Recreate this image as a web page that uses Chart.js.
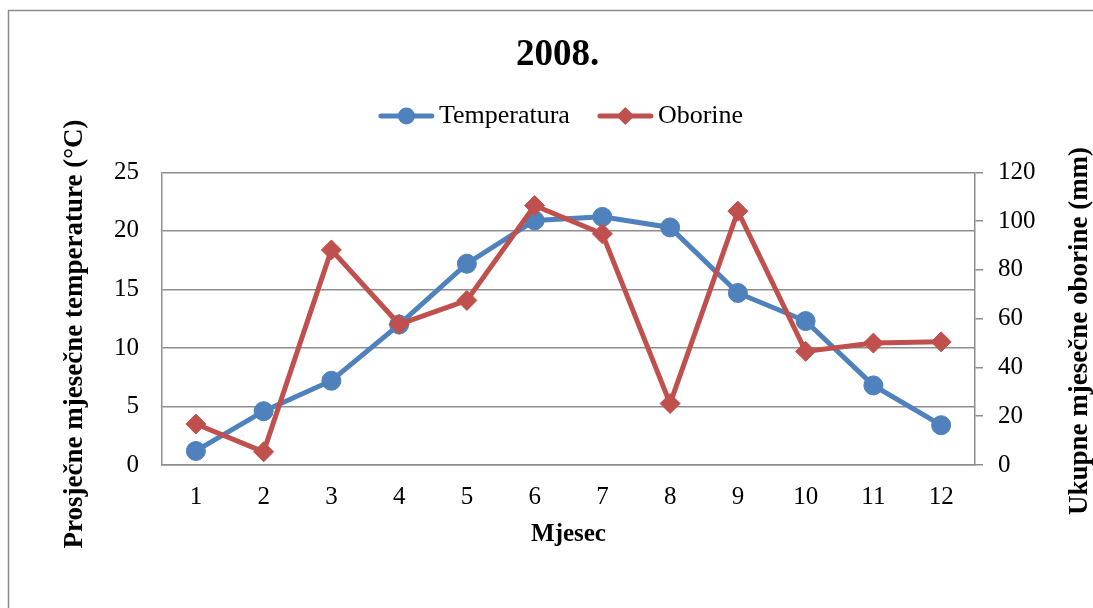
<!DOCTYPE html>
<html>
<head>
<meta charset="utf-8">
<script src="https://cdn.jsdelivr.net/npm/chart.js@4.4.0/dist/chart.umd.min.js"></script>
<style>
  html, body { margin: 0; padding: 0; background: #fff; }
  #wrap { width: 1093px; height: 608px; }
</style>
</head>
<body>
<div id="wrap"><canvas id="chart" width="1093" height="608"></canvas></div>
<script>
var months = ["1", "2", "3", "4", "5", "6", "7", "8", "9", "10", "11", "12"];
var temperatura = [1.2, 4.6, 7.2, 12.0, 17.2, 20.9, 21.2, 20.3, 14.7, 12.3, 6.8, 3.4];
var oborine = [16.8, 5.4, 88.2, 57.7, 67.5, 106.4, 94.8, 25.2, 104.1, 46.6, 50.0, 50.5];
var leftTitle = "Prosječne mjesečne temperature (°C)";
var rightTitle = "Ukupne mjesečne oborine (mm)";

var SERIF = "'Liberation Serif', 'Times New Roman', serif";
var BLUE = "#4F81BD";
var RED = "#C0504D";
var GRID = "#8e8e8e";

// frame around the chart
var framePlugin = {
  id: "frame",
  beforeDraw: function (chart) {
    var ctx = chart.ctx;
    ctx.save();
    ctx.fillStyle = "#fff";
    ctx.fillRect(0, 0, chart.width, chart.height);
    ctx.strokeStyle = "#8a8a8a";
    ctx.lineWidth = 1.5;
    ctx.beginPath();
    ctx.moveTo(8.5, chart.height);
    ctx.lineTo(8.5, 10.5);
    ctx.lineTo(chart.width, 10.5);
    ctx.stroke();
    ctx.restore();
  },
};

// both value axis titles read bottom to top, like in excel
var axisTitles = {
  id: "axisTitles",
  afterDraw: function (chart) {
    var ctx = chart.ctx;
    ctx.save();
    ctx.font = "bold 27px " + SERIF;
    ctx.fillStyle = "#000";
    ctx.textAlign = "center";
    ctx.textBaseline = "middle";
    [[75, 334, leftTitle], [1080, 331, rightTitle]].forEach(function (t) {
      ctx.save();
      ctx.translate(t[0], t[1]);
      ctx.rotate(-Math.PI / 2);
      ctx.fillText(t[2], 0, 0);
      ctx.restore();
    });
    ctx.restore();
  },
};

// excel style legend: line with marker in the middle
var lineLegend = {
  id: "lineLegend",
  afterDraw: function (chart) {
    var ctx = chart.ctx;
    var y = 116;
    ctx.save();
    ctx.font = "26px " + SERIF;
    ctx.textBaseline = "middle";
    var sets = chart.data.datasets;
    var total = 0;
    sets.forEach(function (ds, i) {
      total += 55 + 5 + ctx.measureText(ds.label).width;
      if (i > 0) total += 28;
    });
    var x = 561 - total / 2;
    sets.forEach(function (ds) {
      ctx.strokeStyle = ds.borderColor;
      ctx.lineWidth = 5;
      ctx.lineCap = "round";
      ctx.beginPath();
      ctx.moveTo(x + 2, y);
      ctx.lineTo(x + 53, y);
      ctx.stroke();
      ctx.fillStyle = ds.borderColor;
      var cx = x + 27.5;
      ctx.beginPath();
      if (ds.pointStyle === "rectRot") {
        ctx.moveTo(cx - 9, y);
        ctx.lineTo(cx, y - 9);
        ctx.lineTo(cx + 9, y);
        ctx.lineTo(cx, y + 9);
        ctx.closePath();
      } else {
        ctx.arc(cx, y, 8.5, 0, Math.PI * 2);
      }
      ctx.fill();
      ctx.fillStyle = "#000";
      ctx.fillText(ds.label, x + 60, y);
      x += 60 + ctx.measureText(ds.label).width + 28;
    });
    ctx.restore();
  },
};

var ctx = document.getElementById("chart").getContext("2d");
var chart = new Chart(ctx, {
  type: "line",
  data: {
    labels: months,
    datasets: [
      {
        label: "Temperatura",
        data: temperatura,
        yAxisID: "y",
        borderColor: BLUE,
        backgroundColor: BLUE,
        borderWidth: 5,
        pointStyle: "circle",
        pointRadius: 9.5,
        pointBorderWidth: 1,
        tension: 0,
        order: 2,
      },
      {
        label: "Oborine",
        data: oborine,
        yAxisID: "y1",
        borderColor: RED,
        backgroundColor: RED,
        borderWidth: 5,
        pointStyle: "rectRot",
        pointRadius: 10,
        pointBorderWidth: 1,
        tension: 0,
        order: 1,
      },
    ],
  },
  options: {
    responsive: false,
    animation: false,
    layout: { padding: { left: 22, top: 0, right: 0, bottom: 0 } },
    plugins: {
      legend: { display: false },
      tooltip: { enabled: false },
      title: {
        display: true,
        text: "2008.",
        color: "#000",
        font: { family: SERIF, size: 37, weight: "bold", lineHeight: 1.2 },
        padding: { top: 33, bottom: 95 },
      },
    },
    scales: {
      x: {
        offset: true,
        grid: { display: false, drawTicks: false },
        border: { display: true, color: GRID, width: 1.5 },
        ticks: { color: "#000", font: { family: SERIF, size: 25 }, padding: 17 },
        title: {
          display: true,
          text: "Mjesec",
          color: "#000",
          font: { family: SERIF, size: 25, weight: "bold", lineHeight: 1.2 },
          padding: { top: 0, bottom: 58 },
        },
        afterFit: function (s) { s.height = 143; },
      },
      y: {
        position: "left",
        min: 0,
        max: 25,
        ticks: { stepSize: 5, color: "#000", font: { family: SERIF, size: 25 }, padding: 23 },
        grid: { color: GRID, lineWidth: 1.5, drawTicks: false },
        border: { display: true, color: GRID, width: 1.5 },
        afterFit: function (s) { s.width = 140; },
      },
      y1: {
        position: "right",
        min: 0,
        max: 120,
        ticks: { stepSize: 20, color: "#000", font: { family: SERIF, size: 25 }, padding: 15 },
        grid: { drawOnChartArea: false, drawTicks: true, tickLength: 8, color: GRID, lineWidth: 1.5 },
        border: { display: true, color: GRID, width: 1.5 },
        afterFit: function (s) { s.width = 118; },
      },
    },
  },
  plugins: [framePlugin, axisTitles, lineLegend],
});
</script>
</body>
</html>
